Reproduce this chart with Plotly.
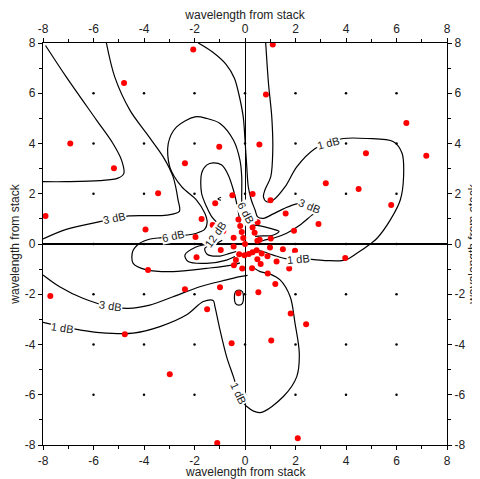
import plotly.graph_objects as go

# ---------------- data ----------------
# red sample points (x, y) in wavelengths from stack
DOT_X = [-2.05, -4.79, -6.92, -5.19, -2.38, -1.02, -3.44, -7.90, -0.50, -1.18, -1.72, -1.28, -0.86, -3.94, -1.96,
         1.10, 0.83, 0.57, 6.39, 4.79, 7.18, 3.20, 4.50, 5.79, 0.30, 1.01, 1.61, 2.91, 1.94, 3.97,
         1.75, 0.90, 1.20, 0.53, 1.81, 2.42, 1.04, 2.09, -0.26, -0.53, -7.71, -3.84, -2.38, -0.99, -1.92,
         -0.96, -1.50, -4.76, -2.98, -1.10, 1.50, 1.98, 1.25,
         -0.26, -0.19, -0.13, -0.07, 0.00, 0.50, 0.30, 0.38, -0.45, 1.02, 0.49, 0.99, -0.45, -0.23, -0.02,
         0.15, 0.30, 0.46, 0.66, 0.89, 0.49, 0.62, 0.28, -0.11, -0.36, -0.44, 0.58]
DOT_Y = [7.74, 6.41, 4.00, 3.01, 3.21, 3.87, 2.02, 1.11, 1.94, 1.62, 1.00, 0.76, 0.52, 0.58, 0.28,
         7.94, 5.95, 3.96, 4.82, 3.61, 3.51, 2.42, 2.19, 1.55, 1.99, 1.74, 1.21, 0.80, 0.53, -0.56,
         -0.98, -1.17, -1.59, -1.92, -2.77, -3.19, -3.84, -7.73, -1.96, -3.95, -2.07, -1.03, -1.80, -1.72, -0.53,
         -0.24, -2.60, -3.59, -5.18, -7.92, -0.21, -0.27, -0.70,
         0.98, 0.72, 0.48, 0.24, 0.00, 0.87, 0.66, 0.45, 0.25, 0.22, 0.13, -0.14, -0.10, -0.41, -0.45,
         -0.40, -0.33, -0.25, -0.38, -0.49, -0.61, -0.80, -0.97, -0.98, -0.64, -0.85, 0.17]

# grid marker positions
GRID_VALUES = [-6, -4, -2, 0, 2, 4, 6]

# axis ticks
TICK_VALUES = [-8, -6, -4, -2, 0, 2, 4, 6, 8]
TICK_LABELS = ["-8", "-6", "-4", "-2", "0", "2", "4", "6", "8"]
MINOR_TICKS = [-7, -5, -3, -1, 1, 3, 5, 7]
AXIS_TITLE = "wavelength from stack"

# contour curves (x, y)
CURVE_A = [(-7.9, 7.9), (-7.08, 6.65), (-5.88, 4.93), (-5.23, 4.0), (-4.89, 3.34), (-4.8, 2.8),
           (-5.03, 2.62), (-5.75, 2.52), (-7.08, 2.48), (-8.0, 2.48)]
CURVE_B = [(-5.49, 8.0), (-5.16, 6.65), (-4.56, 5.33), (-3.90, 4.40), (-3.24, 3.47), (-2.85, 2.68),
           (-2.65, 1.75), (-2.6, 1.3), (-3.1, 1.15), (-4.6, 1.12), (-5.2, 1.0), (-5.75, 0.89),
           (-7.08, 0.58), (-8.0, 0.2)]
CURVE_C = [(-1.85, 8.0), (-1.3, 7.65), (-0.75, 7.15), (-0.42, 6.6), (-0.25, 5.99), (-0.07, 5.06),
           (0.0, 4.14), (0.07, 3.07), (0.13, 2.28), (0.25, 1.75), (0.4, 1.35), (0.5, 1.08),
           (0.73, 1.02), (1.12, 1.2), (1.52, 1.4), (2.05, 1.6), (2.6, 1.55), (2.95, 1.38),
           (2.65, 1.15), (2.18, 0.76), (1.65, 0.43), (1.12, 0.23), (0.73, 0.14), (0.5, 0.05)]
CURVE_D = [(-0.2, -0.75), (-0.46, -0.83), (-1.52, -0.97), (-2.85, -1.10), (-3.90, -1.03),
           (-4.43, -0.77), (-4.45, -0.3), (-4.17, 0.03), (-3.75, 0.2), (-3.3, 0.25), (-2.85, 0.3),
           (-2.35, 0.35), (-1.95, 0.42), (-1.6, 0.58), (-1.5, 0.85), (-1.59, 1.22), (-1.92, 1.75),
           (-2.51, 2.28), (-2.98, 3.07), (-3.04, 4.0), (-2.71, 4.66), (-1.98, 5.06), (-1.52, 5.0),
           (-0.99, 4.80), (-0.46, 4.14), (-0.20, 3.34), (-0.13, 2.68), (-0.13, 1.75), (-0.1, 1.3),
           (-0.05, 0.9)]
CURVE_E = [(-0.2, 0.85), (-0.25, 1.2), (-0.33, 1.62), (-0.46, 2.15), (-0.66, 2.74), (-0.92, 3.14),
           (-1.26, 3.23), (-1.52, 3.14), (-1.72, 2.81), (-1.72, 2.02), (-1.52, 1.48), (-1.32, 1.09),
           (-1.1, 0.85), (-0.9, 0.7), (-1.1, 0.35), (-1.45, 0.02), (-1.92, -0.11), (-2.38, -0.44),
           (-2.25, -0.70), (-1.52, -0.77), (-0.73, -0.64), (-0.4, -0.5)]
CURVE_F = [(-0.9, 0.15), (-1.12, 0.03), (-1.59, -0.17), (-1.5, -0.41), (-0.99, -0.48),
           (-0.6, -0.37), (-0.35, -0.3)]
CURVE_G = [(0.82, 8.0), (0.93, 6.39), (1.06, 5.06), (1.10, 3.74), (1.02, 2.68), (0.79, 2.15),
           (0.73, 1.88), (0.86, 1.68), (1.12, 1.75), (1.59, 2.28), (2.05, 3.07), (2.78, 3.80),
           (3.31, 4.03), (3.90, 4.20), (4.83, 4.20), (5.88, 4.07), (6.22, 3.61), (6.28, 2.68),
           (6.15, 1.75), (5.75, 0.95), (5.23, 0.23), (4.96, 0.0), (4.43, -0.37), (3.97, -0.64),
           (3.24, -0.66), (2.65, -0.61), (2.12, -0.57), (1.6, -0.58), (1.12, -0.44), (0.73, -0.31),
           (0.5, -0.25)]
CURVE_H = [(0.35, -0.95), (0.60, -1.10), (1.0, -1.2), (1.39, -1.43), (1.79, -2.10), (1.98, -3.15),
           (2.15, -4.35), (2.05, -5.28), (1.52, -6.07), (0.60, -6.71), (0.07, -6.47), (-0.2, -6.07),
           (-0.46, -5.28), (-0.73, -4.48), (-0.99, -3.42), (-1.19, -2.49), (-1.26, -2.25),
           (-1.65, -2.29), (-2.31, -2.82), (-3.37, -3.29), (-4.43, -3.55), (-5.75, -3.53),
           (-6.55, -3.42), (-7.21, -3.3), (-8.0, -3.12)]
CURVE_I = [(-8.0, -1.23), (-7.34, -1.70), (-6.42, -2.16), (-5.36, -2.49), (-4.63, -2.56),
           (-3.77, -2.43), (-2.85, -2.10), (-1.79, -1.70), (-0.73, -1.43), (-0.20, -1.30), (0.1, -1.25)]
CURVE_J = [(-0.24, -1.83), (-0.1, -1.9), (-0.06, -2.13), (-0.1, -2.36), (-0.24, -2.43),
           (-0.38, -2.36), (-0.42, -2.13), (-0.38, -1.9), (-0.24, -1.83)]
CURVE_K = [(-0.95, 1.86), (-1.07, 1.79), (-0.95, 1.74)]
CURVE_L = [(0.3, 0.75), (0.6, 0.72), (1.0, 0.62), (1.35, 0.5), (1.1, 0.35), (0.7, 0.32), (0.4, 0.3)]
CURVES = [CURVE_A, CURVE_B, CURVE_C, CURVE_D, CURVE_E, CURVE_F, CURVE_G, CURVE_H, CURVE_I,
          CURVE_J, CURVE_K, CURVE_L]

# contour labels
LABEL_TEXT = ["1 dB", "3 dB", "1 dB", "1 dB", "1 dB", "3 dB", "3 dB", "6 dB", "12 dB", "6 dB"]
LABEL_X = [3.31, 2.55, 2.12, -0.27, -7.21, -5.32, -5.16, -2.85, -1.16, 0.03]
LABEL_Y = [4.03, 1.50, -0.58, -5.94, -3.33, -2.47, 1.02, 0.30, 0.39, 1.22]
LABEL_ANGLE = [-15, 22, -5, 65, 8, 8, -12, -12, -55, 62]

FONT = "Liberation Sans, Arial, sans-serif"

fig = go.Figure()

# contour lines
for curve in CURVES:
    fig.add_trace(go.Scatter(
        x=[p[0] for p in curve], y=[p[1] for p in curve], mode="lines",
        line=dict(color="black", width=1.2, shape="spline", smoothing=0.9),
        hoverinfo="skip", showlegend=False))

# grid dots
gx = [x for x in GRID_VALUES for _ in GRID_VALUES]
gy = [y for _ in GRID_VALUES for y in GRID_VALUES]
fig.add_trace(go.Scatter(x=gx, y=gy, mode="markers",
                         marker=dict(color="black", size=2.5), showlegend=False, hoverinfo="skip"))

# red points
fig.add_trace(go.Scatter(x=DOT_X, y=DOT_Y, mode="markers",
                         marker=dict(color="#ff0000", size=6), showlegend=False))

# invisible trace to activate the mirrored axes
fig.add_trace(go.Scatter(x=[0], y=[0], xaxis="x2", yaxis="y2", mode="markers",
                         marker=dict(opacity=0), showlegend=False, hoverinfo="skip"))

for t, x, y, a in zip(LABEL_TEXT, LABEL_X, LABEL_Y, LABEL_ANGLE):
    fig.add_annotation(x=x, y=y, text=t, textangle=a, showarrow=False,
                       font=dict(family=FONT, size=11, color="#222"),
                       bgcolor="white", borderpad=0)

# bottom axis title placed explicitly below the tick labels
fig.add_annotation(x=0.5, y=0, xref="paper", yref="paper", yanchor="middle", yshift=-27,
                   text=AXIS_TITLE, showarrow=False,
                   font=dict(family=FONT, size=12, color="#222"))


def axis(side, standoff, title=AXIS_TITLE, **extra):
    return dict(range=[-8, 8], tickmode="array", tickvals=TICK_VALUES, ticktext=TICK_LABELS,
                ticks="outside", ticklen=4, tickwidth=1, tickcolor="black",
                showline=True, linecolor="black", linewidth=1.2, showgrid=False,
                tickfont=dict(family=FONT, size=12, color="#222"),
                minor=dict(tickvals=MINOR_TICKS, ticks="outside", ticklen=2.5, tickcolor="black"),
                title=dict(text=title, font=dict(family=FONT, size=12, color="#222"),
                           standoff=standoff),
                side=side, automargin=False, **extra)


# the page body adds an 8px offset, so the figure is 8px smaller than the window
fig.update_layout(
    width=472, height=471,
    margin=dict(l=35, r=33, t=35, b=34, autoexpand=False),
    paper_bgcolor="white", plot_bgcolor="white",
    xaxis=axis("bottom", 0, title="", zeroline=True, zerolinecolor="black", zerolinewidth=1.3),
    yaxis=axis("left", 2, zeroline=True, zerolinecolor="black", zerolinewidth=2.2),
    xaxis2=axis("top", 0, overlaying="x", matches="x", zeroline=False),
    yaxis2=axis("right", 5, overlaying="y", matches="y", zeroline=False),
)

fig.write_html("out.html")
